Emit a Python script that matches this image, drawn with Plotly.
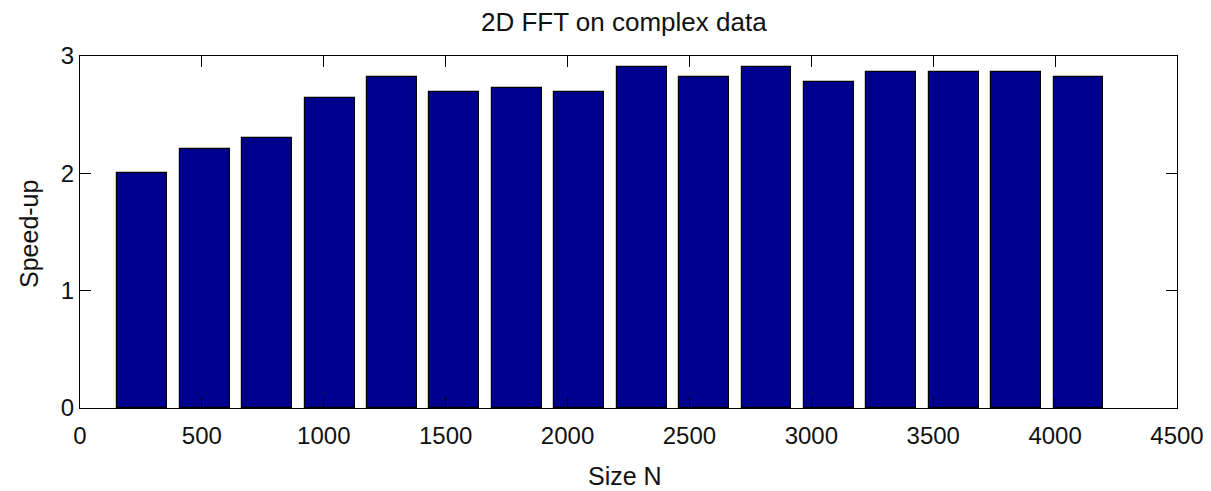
import plotly.graph_objects as go

sizes = [256 * k for k in range(1, 17)]
speedup = [2.00, 2.21, 2.30, 2.645, 2.82, 2.69, 2.73, 2.69,
           2.91, 2.82, 2.91, 2.78, 2.86, 2.86, 2.86, 2.82]
x_ticks = [0, 500, 1000, 1500, 2000, 2500, 3000, 3500, 4000, 4500]
y_ticks = [0, 1, 2, 3]
title_text = "2D FFT on complex data"
x_label = "Size N"
y_label = "Speed-up"

FONT = "Liberation Sans"
# page body has an 8px margin: the figure is drawn from (8, 8)
OFF = 8
W, H = 1211 - OFF, 491 - OFF
L, T = 80 - OFF, 56 - OFF
PW, PH = 1177 - 80, 408 - 56

fig = go.Figure()
fig.add_trace(go.Bar(
    x=sizes, y=speedup, width=0.8 * 256,
    marker=dict(color="#00008F", line=dict(color="black", width=1.2)),
))

axis_common = dict(
    showline=True, linecolor="black", linewidth=1.2, mirror="ticks",
    ticks="inside", ticklen=11, tickwidth=1.2, tickcolor="black",
    showgrid=False, zeroline=False, automargin=False,
    ticklabeloverflow="allow",
    tickfont=dict(family=FONT, size=24, color="#111111"),
)

fig.update_layout(
    width=W, height=H, autosize=False,
    margin=dict(l=L, r=W - L - PW, t=T, b=H - T - PH, pad=0, autoexpand=False),
    plot_bgcolor="white", paper_bgcolor="white",
    showlegend=False, bargap=0,
    xaxis=dict(range=[0, 4500], tickvals=x_ticks, ticktext=[str(v) for v in x_ticks],
               ticklabelstandoff=6, **axis_common),
    yaxis=dict(range=[0, 3], tickvals=y_ticks, ticktext=[str(v) for v in y_ticks], **axis_common),
    annotations=[
        dict(text=title_text, xref="paper", yref="paper", x=(624 - 80) / PW, y=(408 - 22) / PH,
             xanchor="center", yanchor="middle", showarrow=False,
             font=dict(family=FONT, size=26, color="#111111")),
        dict(text=x_label, xref="paper", yref="paper", x=(625 - 80) / PW, y=(408 - 476) / PH,
             xanchor="center", yanchor="middle", showarrow=False,
             font=dict(family=FONT, size=25, color="#111111")),
        dict(text=y_label, xref="paper", yref="paper", x=(29 - 80) / PW, y=(408 - 234) / PH,
             xanchor="center", yanchor="middle", showarrow=False, textangle=-90,
             font=dict(family=FONT, size=25, color="#111111")),
    ],
)

fig.write_html("out.html")
